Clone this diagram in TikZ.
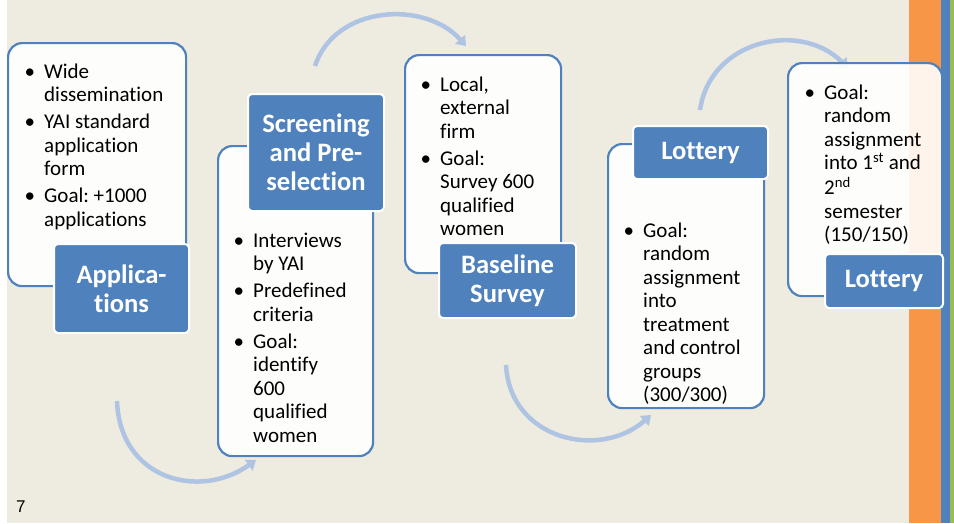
\documentclass[tikz,border=0pt]{standalone}
\usepackage{fontspec}
\setmainfont{Carlito}[Ligatures={NoCommon,NoContextual}]
\newfontfamily\pagenumfont{Liberation Sans}
\usetikzlibrary{arrows.meta}
\frenchspacing
\definecolor{bgbeige}{HTML}{EEECE1}
\definecolor{accorange}{HTML}{F79646}
\definecolor{accblue}{HTML}{4F81BD}
\definecolor{accgreen}{HTML}{9BBB59}
\definecolor{arrowblue}{HTML}{AFC3E3}
\newcommand\bul{\llap{\textbullet\hspace{9pt}}}
\newcommand\bodyfnt{\fontsize{21}{23.5}\selectfont\frenchspacing}
\newcommand\labfnt{\fontsize{26.6}{29}\selectfont\bfseries}
\tikzset{
  bodybox/.style={draw=accblue, line width=2.2pt, fill=white, fill opacity=0.9,
    rounded corners=14pt, inner sep=0pt, anchor=north west},
  labbox/.style={draw=white, line width=2pt, fill=accblue, rounded corners=4pt,
    text=white, font=\labfnt, align=center, inner sep=0pt, anchor=north west},
  bodytxt/.style={anchor=base west, inner sep=0pt, font=\bodyfnt, text=black},
  flow/.style={draw=arrowblue, line width=4.5pt, -{Triangle[length=9pt,width=13pt]}}
}
\begin{document}
\begin{tikzpicture}[x=1pt,y=-1pt]
\useasboundingbox (0,0) rectangle (954,523);
% background and side stripes
\fill[white] (0,0) rectangle (7,523);
\fill[bgbeige] (7,0) rectangle (909,523);
\fill[accorange] (909,0) rectangle (941,523);
\fill[accblue] (941,0) rectangle (950,523);
\fill[accgreen] (950,0) rectangle (954,523);

% connector end points
\coordinate (a1s) at (117,401); \coordinate (a1e) at (256,460);
\coordinate (a2s) at (315,66);  \coordinate (a2e) at (466,46);
\coordinate (a3s) at (506,365); \coordinate (a3e) at (651,415);
\coordinate (a4s) at (700,110); \coordinate (a4e) at (848,68);

\draw[flow] (a1s) .. controls (120,480) and (200,500) .. (a1e);
\draw[flow] (a2s) .. controls (335,5) and (425,0) .. (a2e);
\draw[flow] (a3s) .. controls (510,440) and (600,460) .. (a3e);
\draw[flow] (a4s) .. controls (710,40) and (800,20) .. (a4e);

% content boxes
\node[bodybox, minimum width=178pt, minimum height=243pt] (b1) at (7,42) {};
\node[bodybox, minimum width=155pt, minimum height=310pt] (b2) at (217,145) {};
\node[bodybox, minimum width=156pt, minimum height=218pt] (b3) at (404,54) {};
\node[bodybox, minimum width=156pt, minimum height=264pt] (b4) at (607,143) {};
\node[bodybox, minimum width=154pt, minimum height=233pt] (b5) at (787,62) {};

% body texts
\node[bodytxt] (t1) at (44,78) {\begin{tabular}[t]{@{}l@{}}
\bul Wide\\ dissemination\\[3.5pt]
\bul YAI standard\\ application\\ form\\[3.5pt]
\bul Goal: +1000\\ applications\end{tabular}};
\node[bodytxt] (t2) at (253,247) {\begin{tabular}[t]{@{}l@{}}
\bul Interviews\\ by YAI\\[3.5pt]
\bul Predefined\\ criteria\\[3.5pt]
\bul Goal:\\ identify\\ 600\\ qualified\\ women\end{tabular}};
\node[bodytxt] (t3) at (440,91) {\begin{tabular}[t]{@{}l@{}}
\bul Local,\\ external\\ firm\\[3.5pt]
\bul Goal:\\ Survey 600\\ qualified\\ women\end{tabular}};
\node[bodytxt] (t4) at (643,237) {\begin{tabular}[t]{@{}l@{}}
\bul Goal:\\ random\\ assignment\\ into\\ treatment\\ and control\\ groups\\ (300/300)\end{tabular}};
\node[bodytxt] (t5) at (824,99) {\begin{tabular}[t]{@{}l@{}}
\bul Goal:\\ random\\ assignment\\ into 1\textsuperscript{st} and\\ 2\textsuperscript{nd}\\ semester\\ (150/150)\end{tabular}};

% labels
\node[labbox, minimum width=135pt, minimum height=89pt] (l1) at (53,243) {Applica-\\tions};
\node[labbox, minimum width=136pt, minimum height=117pt] (l2) at (247,93) {Screening\\and Pre-\\selection};
\node[labbox, minimum width=137pt, minimum height=75pt] (l3) at (438,242) {Baseline\\Survey};
\node[labbox, minimum width=135pt, minimum height=53pt] (l4) at (632,125) {Lottery};
\node[labbox, minimum width=118pt, minimum height=54pt] (l5) at (824,253) {Lottery};

% page number
\node[anchor=base west, inner sep=0pt, font=\pagenumfont\fontsize{17}{20}\selectfont] (pg) at (16,512) {7};
\end{tikzpicture}
\end{document}
